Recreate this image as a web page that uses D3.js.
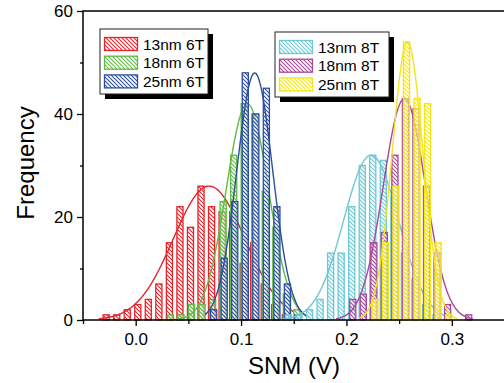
<!DOCTYPE html>
<html>
<head>
<meta charset="utf-8">
<script src="https://cdn.jsdelivr.net/npm/d3@7"></script>
<style>
  body { margin: 0; background: #fff; }
  svg { display: block; font-family: "Liberation Sans", Arial, sans-serif; }
</style>
</head>
<body>
<div id="chart"></div>
<script>
// series, in drawing order
const seriesNames = ['13nm 6T', '18nm 6T', '25nm 6T', '13nm 8T', '18nm 8T', '25nm 8T'];
const seriesColors = ['#e3262c', '#62b947', '#2c4f9c', '#72c8d2', '#a8489a', '#f3e41c'];

// histogram counts, one value per 0.01 V bin, first bin centre in binStart
const binStart = [-0.028, 0.033, 0.074, 0.145, 0.206, 0.227];
const binStep = 0.01;
const counts13nm6T = [1, 1, 2, 3, 4, 7, 15, 22, 18, 26, 22, 21, 21, 11, 15, 7, 3, 1];
const counts18nm6T = [1, 1, 3, 3, 4, 23, 32, 42, 40, 25, 18, 5, 2];
const counts25nm6T = [2, 12, 23, 48, 40, 45, 22, 7, 1];
const counts13nm8T = [1, 1, 2, 4, 13, 13, 22, 30, 32, 31, 24, 13, 8, 3, 1];
const counts18nm8T = [4, 5, 15, 17, 32, 43, 41, 26, 13, 3, 0, 1];
const counts25nm8T = [4, 15, 26, 54, 43, 42, 15, 1];
const allCounts = [counts13nm6T, counts18nm6T, counts25nm6T, counts13nm8T, counts18nm8T, counts25nm8T];

// gaussian fit lines: centre, sigma, peak, x span
const fitCenter = [0.0697, 0.106, 0.113, 0.2234, 0.255, 0.258];
const fitSigma = [0.034, 0.02, 0.017, 0.026, 0.02, 0.0145];
const fitPeak = [26, 42, 48, 32, 43, 54];
const fitFrom = [-0.035, 0.025, 0.066, 0.138, 0.19, 0.212];
const fitTo = [0.15, 0.165, 0.162, 0.298, 0.32, 0.305];

const xMajor = [0.0, 0.1, 0.2, 0.3];
const xMinor = [-0.05, 0.05, 0.15, 0.25];
const yMajor = [0, 20, 40, 60];
const yMinor = [10, 30, 50];

const W = 504, H = 383;
const margin = { top: 11, left: 83 };

const x = d3.scaleLinear().domain([-0.05, 0.35]).range([83, 504.5]);
const y = d3.scaleLinear().domain([0, 60]).range([320, 11]);

const svg = d3.select('#chart').append('svg')
  .attr('width', W)
  .attr('height', H);

// hatch patterns
const defs = svg.append('defs');
seriesColors.forEach((c, i) => {
  const p = defs.append('pattern')
    .attr('id', 'hatch' + i)
    .attr('patternUnits', 'userSpaceOnUse')
    .attr('width', 4)
    .attr('height', 4);
  p.append('rect')
    .attr('width', 4).attr('height', 4)
    .attr('fill', '#fff').attr('fill-opacity', 0.45);
  p.append('path')
    .attr('d', 'M-1,-1L5,5M-1,3L1,5M3,-1L5,1')
    .attr('stroke', c)
    .attr('stroke-width', 1.1);
});

const halfBar = 0.0029;
const line = d3.line()
  .curve(d3.curveBasis)
  .x(d => x(d[0]))
  .y(d => y(d[1]));

allCounts.forEach((counts, i) => {
  const bars = counts
    .map((v, k) => ({ c: binStart[i] + k * binStep, v: v }))
    .filter(d => d.v > 0);
  svg.append('g')
    .selectAll('rect')
    .data(bars)
    .enter()
    .append('rect')
    .attr('x', d => x(d.c - halfBar))
    .attr('y', d => y(d.v))
    .attr('width', d => x(d.c + halfBar) - x(d.c - halfBar))
    .attr('height', d => y(0) - y(d.v))
    .attr('fill', 'url(#hatch' + i + ')')
    .attr('stroke', seriesColors[i])
    .attr('stroke-width', 1.3);

  const pts = d3.range(fitFrom[i], fitTo[i] + 1e-9, 0.001).map(t => [
    t, fitPeak[i] * Math.exp(-Math.pow(t - fitCenter[i], 2) / (2 * fitSigma[i] * fitSigma[i]))
  ]);
  svg.append('path')
    .datum(pts)
    .attr('fill', 'none')
    .attr('stroke', seriesColors[i])
    .attr('stroke-width', 1.4)
    .attr('d', line);
});

// frame
svg.append('rect')
  .attr('x', 83).attr('y', 11)
  .attr('width', 422).attr('height', 309)
  .attr('fill', 'none')
  .attr('stroke', '#000')
  .attr('stroke-width', 1.5);

// axes
const xAxis = svg.append('g')
  .attr('transform', 'translate(0,320)')
  .call(d3.axisBottom(x).tickValues(xMajor).tickSize(6).tickPadding(7).tickFormat(d3.format('.1f')));
const xAxisMinor = svg.append('g')
  .attr('transform', 'translate(0,320)')
  .call(d3.axisBottom(x).tickValues(xMinor).tickSize(4).tickFormat(''));
const yAxis = svg.append('g')
  .attr('transform', 'translate(83,0)')
  .call(d3.axisLeft(y).tickValues(yMajor).tickSize(6).tickPadding(4));
const yAxisMinor = svg.append('g')
  .attr('transform', 'translate(83,0)')
  .call(d3.axisLeft(y).tickValues(yMinor).tickSize(3).tickFormat(''));

[xAxis, xAxisMinor, yAxis, yAxisMinor].forEach(g => {
  g.select('.domain').remove();
  g.selectAll('line').attr('stroke-width', 1.3);
  g.selectAll('text')
    .style('font-size', '17px')
    .style('font-family', '"Liberation Sans", Arial, sans-serif')
    .attr('fill', '#000');
});

// axis titles
svg.append('text')
  .attr('x', 294).attr('y', 374)
  .attr('text-anchor', 'middle')
  .style('font-size', '24px')
  .text('SNM (V)');
svg.append('text')
  .attr('transform', 'translate(34,163) rotate(-90)')
  .attr('text-anchor', 'middle')
  .style('font-size', '24px')
  .text('Frequency');

// legends
const legendBoxes = [
  { x: 100, y: 29, w: 108, h: 65, items: [0, 1, 2] },
  { x: 275, y: 32, w: 114, h: 65, items: [3, 4, 5] }
];
legendBoxes.forEach(b => {
  const g = svg.append('g');
  g.append('rect')
    .attr('x', b.x + 5).attr('y', b.y + 5)
    .attr('width', b.w).attr('height', b.h)
    .attr('fill', '#000');
  g.append('rect')
    .attr('x', b.x).attr('y', b.y)
    .attr('width', b.w).attr('height', b.h)
    .attr('fill', '#fff')
    .attr('stroke', '#222')
    .attr('stroke-width', 1);
  b.items.forEach((si, k) => {
    const cy = b.y + 15 + k * 18.7;
    g.append('rect')
      .attr('x', b.x + 4.5).attr('y', cy - 6.5)
      .attr('width', 33).attr('height', 13)
      .attr('fill', 'url(#hatch' + si + ')')
      .attr('stroke', seriesColors[si])
      .attr('stroke-width', 1.3);
    g.append('text')
      .attr('x', b.x + 43).attr('y', cy)
      .attr('dy', '0.36em')
      .style('font-size', '15.5px')
      .text(seriesNames[si]);
  });
});
</script>
</body>
</html>
